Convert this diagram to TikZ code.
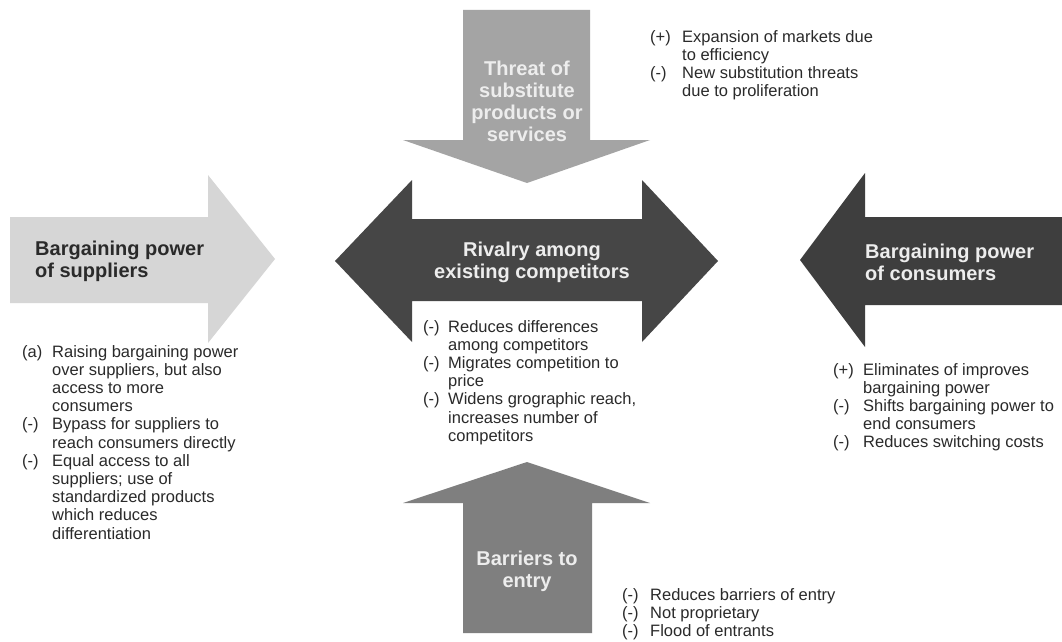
\documentclass[tikz,border=0pt]{standalone}
\usepackage{fontspec}
\setmainfont{Liberation Sans}
\usepackage{array}
\definecolor{supc}{HTML}{D6D6D6}
\definecolor{subc}{HTML}{A4A4A4}
\definecolor{entc}{HTML}{7F7F7F}
\definecolor{rivc}{HTML}{464646}
\definecolor{conc}{HTML}{3E3E3E}
\definecolor{notec}{HTML}{2A2A2A}
\definecolor{lightlbl}{HTML}{EDEDED}
\newcommand\noteblock[2]{\begin{tabular}[t]{@{}p{#1}@{}l@{}}#2\end{tabular}}
\tikzset{
  lbl/.style={font=\bfseries\fontsize{20}{22}\selectfont, align=center, inner sep=0pt},
  lightlabel/.style={lbl, text=lightlbl},
  darklabel/.style={lbl, text=notec, align=left},
  note/.style={font=\fontsize{16.5}{18.2}\selectfont, text=notec, inner sep=0pt, anchor=base west}
}
\begin{document}
\begin{tikzpicture}[x=1pt,y=-1pt]
\useasboundingbox (0,0) rectangle (1062,642);
\fill[white] (0,0) rectangle (1062,642);

% top arrow (substitutes)
\fill[subc] (463,10) -- (590,10) -- (590,140) -- (650,140) -- (527,183) -- (403,140) -- (463,140) -- cycle;
% bottom arrow (entry)
\fill[entc] (463,633) -- (592,633) -- (592,503) -- (650,503) -- (527,462) -- (403,503) -- (463,503) -- cycle;
% left arrow (suppliers)
\fill[supc] (10,217) -- (208,217) -- (208,175) -- (275,259) -- (208,343) -- (208,303) -- (10,303) -- cycle;
% right arrow (consumers)
\fill[conc] (1062,217) -- (865,217) -- (865,173) -- (800,260) -- (865,347) -- (865,305) -- (1062,305) -- cycle;
% double arrow (rivalry)
\fill[rivc] (335,261) -- (412,180) -- (412,219) -- (642,219) -- (642,180) -- (718,261) -- (642,342) -- (642,301) -- (412,301) -- (412,342) -- cycle;

% labels
\node[lightlabel] (sub) at (527,101) {Threat of\\substitute\\products or\\services};
\node[darklabel, anchor=west] (sup) at (35,261) {Bargaining power\\of suppliers};
\node[lightlabel] (riv) at (532,262) {Rivalry among\\existing competitors};
\node[lightlabel, anchor=west, align=left] (con) at (865,262) {Bargaining power\\of consumers};
\node[lightlabel] (ent) at (527,571) {Barriers to\\entry};

% notes
\node[note] (nsub) at (650,42) {\noteblock{32pt}{(+) & Expansion of markets due\\
 & to efficiency\\
(-) & New substitution threats\\
 & due to proliferation}};

\node[note] (nsup) at (22,357) {\noteblock{30pt}{(a) & Raising bargaining power\\
 & over suppliers, but also\\
 & access to more\\
 & consumers\\
(-) & Bypass for suppliers to\\
 & reach consumers directly\\
(-) & Equal access to all\\
 & suppliers; use of\\
 & standardized products\\
 & which reduces\\
 & differentiation}};

\node[note] (nriv) at (423,332) {\noteblock{25pt}{(-) & Reduces differences\\
 & among competitors\\
(-) & Migrates competition to\\
 & price\\
(-) & Widens grographic reach,\\
 & increases number of\\
 & competitors}};

\node[note] (ncon) at (833,375) {\noteblock{30pt}{(+) & Eliminates of improves\\
 & bargaining power\\
(-) & Shifts bargaining power to\\
 & end consumers\\
(-) & Reduces switching costs}};

\node[note] (nent) at (622,600) {\noteblock{28pt}{(-) & Reduces barriers of entry\\
(-) & Not proprietary\\
(-) & Flood of entrants}};
\end{tikzpicture}
\end{document}
